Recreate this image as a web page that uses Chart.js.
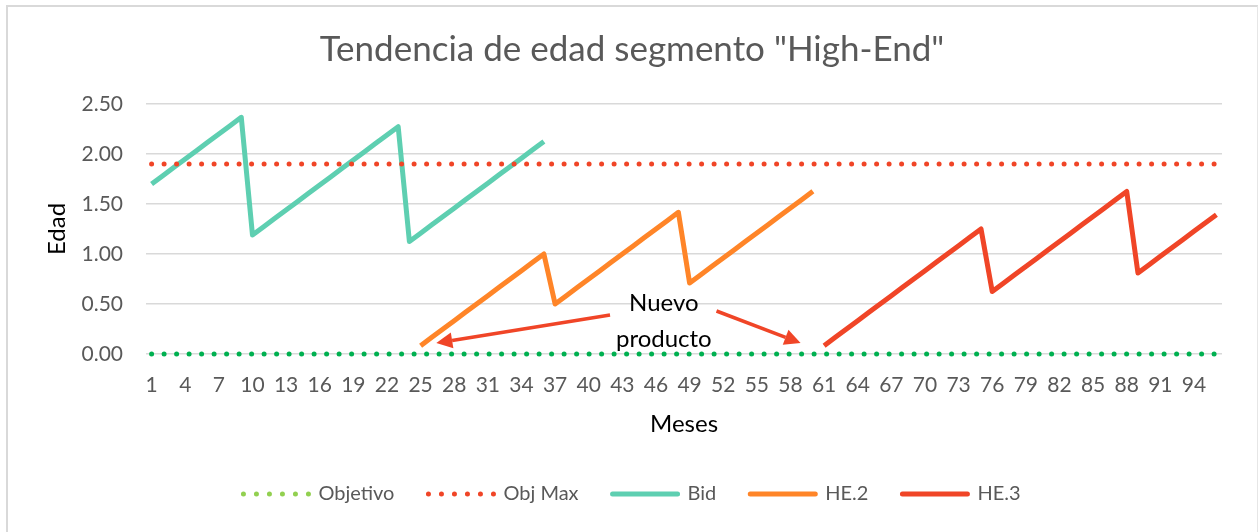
<!DOCTYPE html>
<html>
<head>
<meta charset="utf-8">
<script src="https://cdn.jsdelivr.net/npm/chart.js@4/dist/chart.umd.min.js"></script>
<style>
  body { margin: 0; background: #fff; }
  #frame { position: absolute; left: 6px; top: 5px; width: 1252px; height: 540px;
           border-left: 2px solid #d9d9d9; border-top: 2px solid #d9d9d9;
           border-right: 1px solid #e6e6e6; box-sizing: border-box; }
  #c { position: absolute; left: 0; top: 0; }
</style>
</head>
<body>
<div id="frame"></div>
<canvas id="c" width="1258" height="532"></canvas>
<script>
// months 1..96 on the category axis
const months = Array.from({ length: 96 }, (_, i) => String(i + 1));

// target lines
const objetivo = 0;
const objMax = 1.9;

// Bid: months 1-36
const bidStart = 1;
const bidValues = [1.700, 1.783, 1.867, 1.950, 2.033, 2.117, 2.200, 2.283, 2.367,
  1.190, 1.273, 1.357, 1.440, 1.523, 1.607, 1.690, 1.773, 1.857, 1.940, 2.023, 2.107, 2.190, 2.273,
  1.125, 1.208, 1.292, 1.375, 1.458, 1.542, 1.625, 1.708, 1.792, 1.875, 1.958, 2.042, 2.125];

// HE.2: months 25-60
const he2Start = 25;
const he2Values = [0.083, 0.167, 0.250, 0.333, 0.417, 0.500, 0.583, 0.667, 0.750, 0.833, 0.917, 1.000,
  0.500, 0.583, 0.667, 0.750, 0.833, 0.917, 1.000, 1.083, 1.167, 1.250, 1.333, 1.417,
  0.710, 0.793, 0.877, 0.960, 1.043, 1.127, 1.210, 1.293, 1.377, 1.460, 1.543, 1.627];

// HE.3: months 61-96
const he3Start = 61;
const he3Values = [0.083, 0.167, 0.250, 0.333, 0.417, 0.500, 0.583, 0.667, 0.750, 0.833, 0.917, 1.000, 1.083, 1.167, 1.250,
  0.625, 0.708, 0.792, 0.875, 0.958, 1.042, 1.125, 1.208, 1.292, 1.375, 1.458, 1.542, 1.625,
  0.810, 0.893, 0.977, 1.060, 1.143, 1.227, 1.310, 1.393];

// put a series at its starting month, empty elsewhere
function place(start, values) {
  const out = months.map(() => null);
  values.forEach((v, i) => { out[start - 1 + i] = v; });
  return out;
}

const FONT = 'Lato, "Open Sans", sans-serif';
const RED = '#F04527';

// "Nuevo producto" callout, in data units (category index, edad)
const note = { x: 45.7, y1: 0.51, y2: 0.15 };
const arrows = [
  { from: [40.9, 0.39], to: [25.4, 0.11] },
  { from: [50.4, 0.43], to: [57.9, 0.11] }
];

const calloutPlugin = {
  id: 'callout',
  afterDraw(chart) {
    const { ctx, scales: { x, y } } = chart;
    ctx.save();
    ctx.strokeStyle = RED;
    ctx.fillStyle = RED;
    ctx.lineWidth = 3.5;
    arrows.forEach(a => {
      const x0 = x.getPixelForValue(a.from[0]), y0 = y.getPixelForValue(a.from[1]);
      const x1 = x.getPixelForValue(a.to[0]), y1 = y.getPixelForValue(a.to[1]);
      const ang = Math.atan2(y1 - y0, x1 - x0);
      const hl = 16, hw = 8;
      const bx = x1 - hl * Math.cos(ang), by = y1 - hl * Math.sin(ang);
      ctx.beginPath();
      ctx.moveTo(x0, y0);
      ctx.lineTo(bx, by);
      ctx.stroke();
      ctx.beginPath();
      ctx.moveTo(x1, y1);
      ctx.lineTo(bx + hw * Math.sin(ang), by - hw * Math.cos(ang));
      ctx.lineTo(bx - hw * Math.sin(ang), by + hw * Math.cos(ang));
      ctx.closePath();
      ctx.fill();
    });
    ctx.fillStyle = '#000';
    ctx.font = '24px ' + FONT;
    ctx.textAlign = 'center';
    ctx.textBaseline = 'middle';
    const nx = x.getPixelForValue(note.x);
    ctx.fillText('Nuevo', nx, y.getPixelForValue(note.y1));
    ctx.fillText('producto', nx, y.getPixelForValue(note.y2));
    ctx.restore();
  }
};

const dotted = { borderDash: [0, 12.5], borderCapStyle: 'round', borderWidth: 5, clip: false };

new Chart(document.getElementById('c'), {
  type: 'line',
  data: {
    labels: months,
    datasets: [
      { label: 'Objetivo', data: months.map(() => objetivo), borderColor: '#00B050', backgroundColor: '#92D050', ...dotted },
      { label: 'Obj Max', data: months.map(() => objMax), borderColor: RED, backgroundColor: RED, ...dotted },
      { label: 'Bid', data: place(bidStart, bidValues), borderColor: '#5ECFB1', backgroundColor: '#5ECFB1', borderWidth: 5 },
      { label: 'HE.2', data: place(he2Start, he2Values), borderColor: '#FF8528', backgroundColor: '#FF8528', borderWidth: 5 },
      { label: 'HE.3', data: place(he3Start, he3Values), borderColor: RED, backgroundColor: RED, borderWidth: 5 }
    ]
  },
  options: {
    responsive: false,
    animation: false,
    devicePixelRatio: 1,
    elements: { point: { radius: 0 }, line: { tension: 0, borderJoinStyle: 'round' } },
    layout: { padding: { top: 5, left: 42, right: 36, bottom: 18 } },
    plugins: {
      title: {
        display: true,
        text: 'Tendencia de edad segmento "High-End"',
        color: '#595959',
        font: { family: FONT, size: 35, weight: 'normal' },
        padding: { top: 24, bottom: 33 }
      },
      legend: {
        position: 'bottom',
        labels: {
          color: '#595959',
          font: { family: FONT, size: 20 },
          boxWidth: 65,
          boxHeight: 0,
          padding: 34,
          generateLabels(chart) {
            const items = Chart.defaults.plugins.legend.labels.generateLabels(chart);
            items.forEach(it => {
              it.fillStyle = 'rgba(0,0,0,0)';
              it.lineCap = 'round';
              if (it.text === 'Objetivo') it.strokeStyle = '#92D050';
              if (it.lineDash && it.lineDash.length) it.lineDash = [0, 13];
            });
            return items;
          }
        }
      },
      tooltip: { enabled: false }
    },
    scales: {
      x: {
        offset: true,
        grid: { display: false, drawTicks: false, offset: true },
        border: { display: false },
        ticks: {
          color: '#595959',
          font: { family: FONT, size: 21 },
          autoSkip: false,
          maxRotation: 0,
          padding: 19,
          callback: (v, i) => (i % 3 === 0 ? months[i] : '')
        },
        title: { display: true, text: 'Meses', color: '#000', font: { family: FONT, size: 24 }, padding: { top: 4, bottom: 11.6 } },
        afterFit: s => { s.height = 96; }
      },
      y: {
        min: 0,
        max: 2.5,
        grid: { color: '#d9d9d9', lineWidth: 1.5, drawTicks: false },
        border: { display: false },
        ticks: {
          stepSize: 0.5,
          color: '#595959',
          font: { family: FONT, size: 21 },
          padding: 23,
          callback: v => v.toFixed(2)
        },
        title: { display: true, text: 'Edad', color: '#000', font: { family: FONT, size: 24 }, padding: { top: 1, bottom: 0 } },
        afterFit: s => { s.width = 104; }
      }
    }
  },
  plugins: [calloutPlugin]
});
</script>
</body>
</html>
